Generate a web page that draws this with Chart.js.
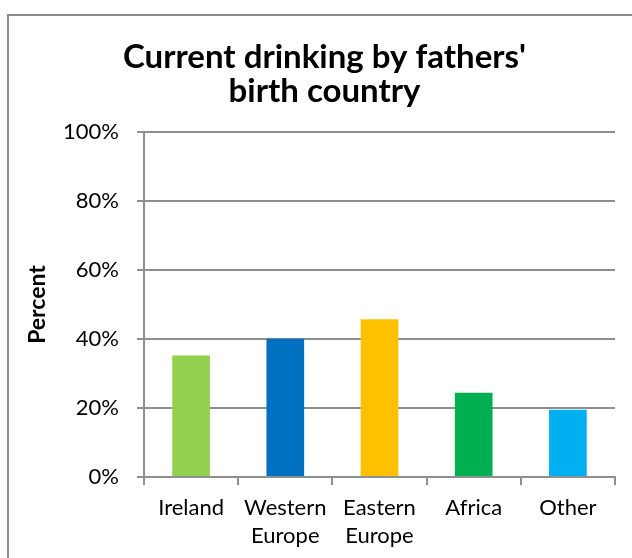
<!DOCTYPE html>
<html>
<head>
<meta charset="utf-8">
<script src="https://cdn.jsdelivr.net/npm/chart.js@4.4.1/dist/chart.umd.min.js"></script>
<style>
  html, body { margin: 0; padding: 0; background: #fff; overflow: hidden; }
  #frame {
    position: absolute; left: 7px; top: 14px;
    width: 660px; height: 580px;
    border: 2px solid #8c8c8c;
  }
  #wrap { position: absolute; left: 0; top: 0; width: 632px; height: 558px; }
</style>
</head>
<body>
<div id="frame"></div>
<div id="wrap"><canvas id="grafik"></canvas></div>
<script>
const countries = [["Ireland"], ["Western", "Europe"], ["Eastern", "Europe"], ["Africa"], ["Other"]];
const drinking = [35.2, 40.1, 45.7, 24.4, 19.5];
const barColors = ["#92D050", "#0070C0", "#FFC000", "#00B050", "#00B0F0"];
const yTicks = [0, 20, 40, 60, 80, 100];

const gridGray = "#8f8f8f";
const font = "Lato";

const grafik = document.getElementById("grafik");
let chart = new Chart(grafik, {
  type: "bar",
  data: {
    labels: countries,
    datasets: [
      {
        label: "Percent",
        data: drinking,
        backgroundColor: barColors,
        barPercentage: 0.4,
        categoryPercentage: 1,
      },
    ],
  },
  options: {
    responsive: true,
    maintainAspectRatio: false,
    animation: false,
    // left padding is wider so the title sits centred like the original
    layout: { padding: { left: 34, right: 17, top: 12, bottom: 0 } },
    plugins: {
      legend: { display: false },
      tooltip: { enabled: false },
      title: {
        display: true,
        text: ["Current drinking by fathers'", "birth country"],
        color: "#000",
        font: { family: font, size: 33, weight: "bold", lineHeight: 1.03 },
        padding: { top: 28, bottom: 24 },
      },
    },
    scales: {
      x: {
        grid: {
          offset: true,
          drawOnChartArea: false,
          drawTicks: true,
          tickLength: 8,
          color: gridGray,
          lineWidth: 2,
        },
        border: { color: gridGray, width: 2 },
        ticks: {
          color: "#000",
          padding: 9,
          font: { family: font, size: 22, lineHeight: 1.27 },
          maxRotation: 0,
          autoSkip: false,
        },
        afterFit: (s) => { s.height = 81; },
      },
      y: {
        min: 0,
        max: 100,
        afterBuildTicks: (s) => { s.ticks = yTicks.map((v) => ({ value: v })); },
        grid: { color: gridGray, lineWidth: 2, tickLength: 7 },
        border: { color: gridGray, width: 2 },
        ticks: {
          color: "#000",
          padding: 18,
          font: { family: font, size: 22 },
          callback: (value) => `${value}%`,
        },
        title: {
          display: true,
          text: "Percent",
          color: "#000",
          font: { family: font, size: 23, weight: "bold" },
          padding: { top: -10, bottom: 0 },
        },
        afterFit: (s) => { s.width = 110; },
      },
    },
  },
});
</script>
</body>
</html>
